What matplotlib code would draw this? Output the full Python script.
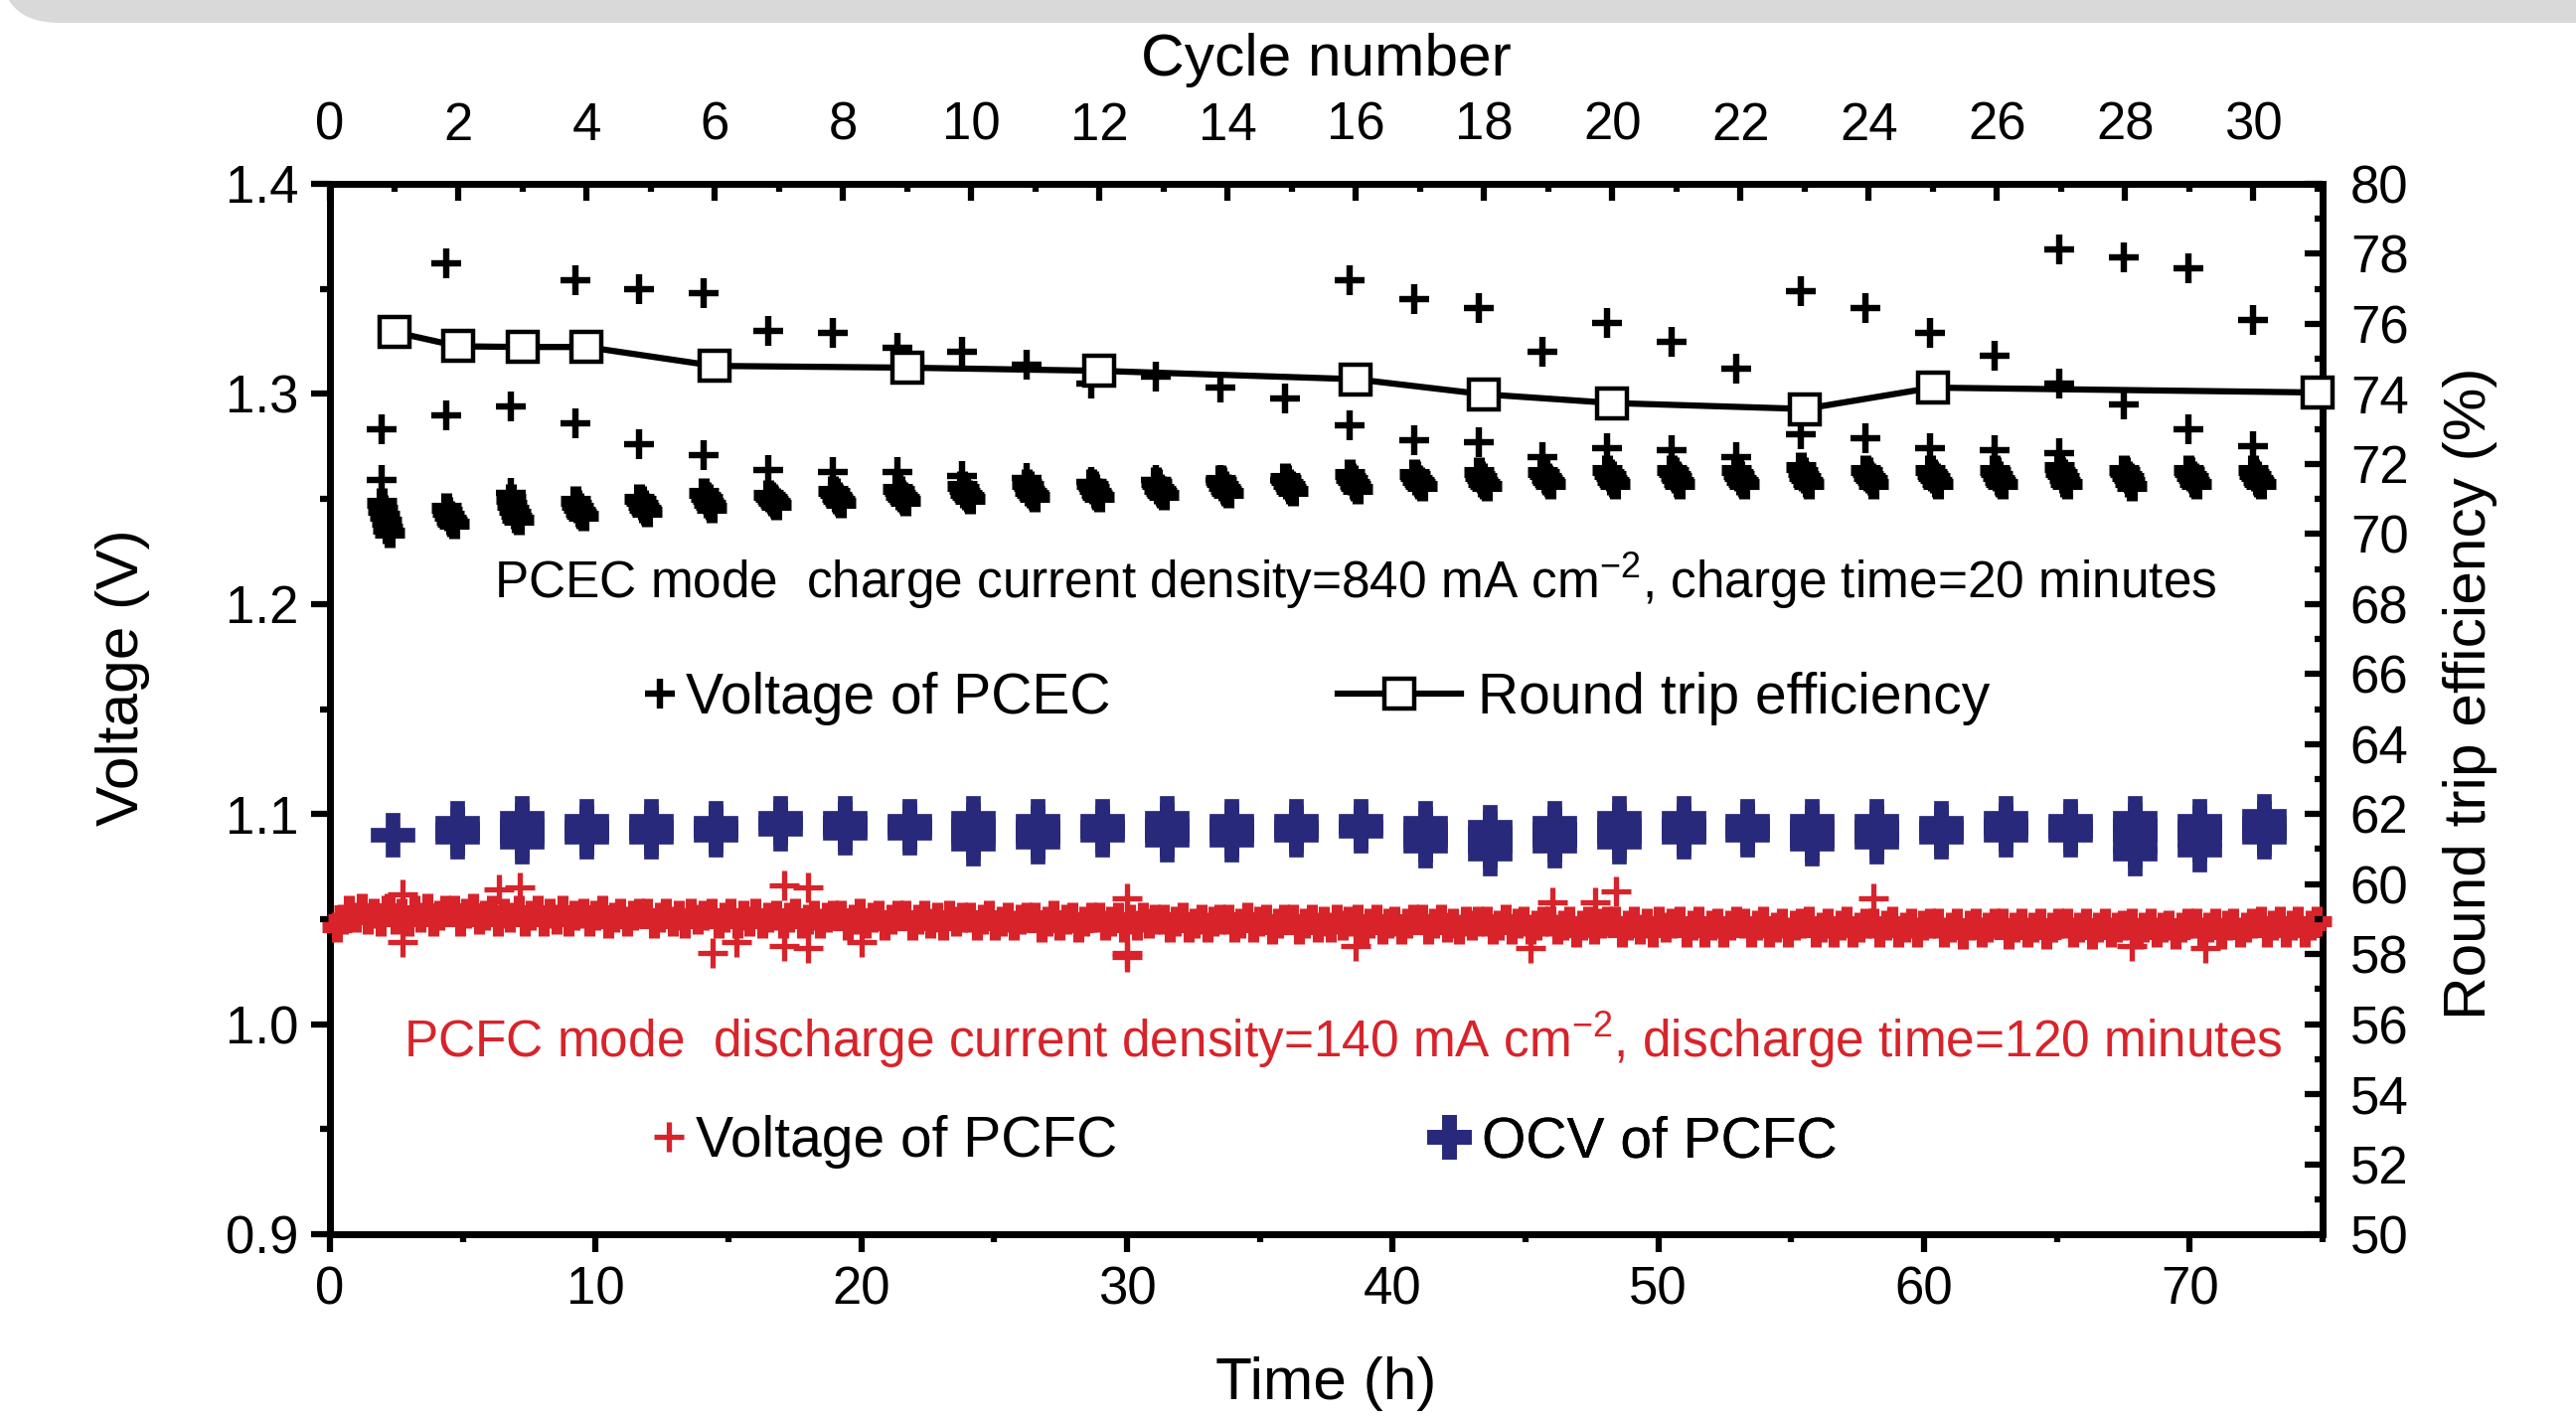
import numpy as np
import matplotlib
matplotlib.use('Agg')
import matplotlib.pyplot as plt
from matplotlib.patches import FancyBboxPatch
from matplotlib.lines import Line2D
from matplotlib.ticker import MultipleLocator, FormatStrFormatter
from matplotlib import font_manager

# --- fuente tipo Arial ---
nombres = {f.name for f in font_manager.fontManager.ttflist}
FUENTE = 'Liberation Sans' if 'Liberation Sans' in nombres else 'DejaVu Sans'
plt.rcParams['font.family'] = [FUENTE, 'DejaVu Sans']
plt.rcParams['mathtext.default'] = 'regular'

ROJO = '#d8232a'
AZUL = '#28297b'

# --- datos ---
# inicio de cada carga (h), ciclos 1..30
inicio_ciclo = [1.94, 4.37, 6.80, 9.23, 11.65, 14.08, 16.51, 18.94, 21.37, 23.80,
                26.23, 28.65, 31.08, 33.51, 35.94, 38.37, 40.80, 43.23, 45.65, 48.08,
                50.51, 52.94, 55.37, 57.80, 60.23, 62.65, 65.08, 67.51, 69.94, 72.37]

# primeras lecturas de cada carga PCEC (transitorio), V
pcec_inicio = [
    [1.283, 1.259], [1.362, 1.290], [1.294, 1.253], [1.354, 1.286], [1.350, 1.276],
    [1.348, 1.271], [1.330, 1.264], [1.329, 1.263], [1.322, 1.263], [1.320, 1.261],
    [1.314, 1.260], [1.305, 1.258], [1.308, 1.259], [1.303, 1.259], [1.298, 1.259],
    [1.354, 1.285], [1.345, 1.278], [1.341, 1.277], [1.320, 1.270], [1.334, 1.274],
    [1.325, 1.273], [1.312, 1.270], [1.349, 1.281], [1.341, 1.279], [1.329, 1.274],
    [1.318, 1.273], [1.369, 1.305, 1.272], [1.365, 1.295], [1.360, 1.283], [1.335, 1.275]]

# resto de la carga (nube densa), V
pcec_carga = [
    [1.248, 1.245, 1.242, 1.239, 1.236, 1.234],
    [1.246, 1.244, 1.242, 1.240, 1.239, 1.238],
    [1.250, 1.247, 1.245, 1.243, 1.241, 1.240],
    [1.249, 1.247, 1.246, 1.244, 1.243, 1.242],
    [1.250, 1.249, 1.247, 1.246, 1.245, 1.244],
    [1.253, 1.251, 1.250, 1.248, 1.247, 1.246],
    [1.252, 1.251, 1.250, 1.249, 1.248, 1.247],
    [1.254, 1.253, 1.251, 1.250, 1.249, 1.248],
    [1.255, 1.254, 1.252, 1.251, 1.250, 1.249],
    [1.256, 1.255, 1.253, 1.252, 1.251, 1.250],
    [1.257, 1.256, 1.254, 1.253, 1.252, 1.251],
    [1.257, 1.256, 1.255, 1.253, 1.252, 1.251],
    [1.258, 1.257, 1.255, 1.254, 1.253, 1.252],
    [1.259, 1.258, 1.256, 1.255, 1.254, 1.253],
    [1.260, 1.259, 1.257, 1.256, 1.255, 1.254],
    [1.262, 1.260, 1.259, 1.257, 1.256, 1.255],
    [1.262, 1.261, 1.259, 1.258, 1.257, 1.256],
    [1.263, 1.261, 1.260, 1.258, 1.257, 1.256],
    [1.263, 1.262, 1.260, 1.259, 1.258, 1.257],
    [1.264, 1.262, 1.261, 1.259, 1.258, 1.257],
    [1.264, 1.263, 1.261, 1.260, 1.258, 1.257],
    [1.264, 1.262, 1.261, 1.259, 1.258, 1.257],
    [1.265, 1.263, 1.261, 1.260, 1.258, 1.257],
    [1.264, 1.263, 1.261, 1.260, 1.259, 1.257],
    [1.264, 1.262, 1.261, 1.260, 1.258, 1.257],
    [1.264, 1.263, 1.261, 1.259, 1.258, 1.257],
    [1.265, 1.263, 1.262, 1.260, 1.258, 1.257],
    [1.264, 1.263, 1.261, 1.260, 1.258, 1.256],
    [1.264, 1.263, 1.261, 1.260, 1.258, 1.257],
    [1.264, 1.262, 1.261, 1.259, 1.258, 1.257]]
offset_carga = [0.0, 0.06, 0.12, 0.18, 0.24, 0.30]   # h desde el inicio de la carga

# OCV de PCFC por ciclo, V
ocv = [
    [1.090], [1.096, 1.093, 1.091, 1.089], [1.098, 1.095, 1.092, 1.089, 1.087],
    [1.097, 1.094, 1.091, 1.089], [1.097, 1.094, 1.091, 1.089], [1.096, 1.094, 1.092, 1.090],
    [1.098, 1.096, 1.093], [1.098, 1.096, 1.093, 1.091], [1.097, 1.095, 1.093, 1.091],
    [1.098, 1.095, 1.092, 1.089, 1.086], [1.097, 1.094, 1.091, 1.089, 1.087],
    [1.097, 1.094, 1.092, 1.090], [1.098, 1.095, 1.092, 1.090, 1.088],
    [1.097, 1.095, 1.092, 1.090, 1.088], [1.097, 1.094, 1.092, 1.090], [1.097, 1.094, 1.092],
    [1.096, 1.093, 1.090, 1.088, 1.085], [1.094, 1.091, 1.088, 1.085, 1.081],
    [1.096, 1.093, 1.090, 1.088, 1.085], [1.098, 1.095, 1.092, 1.089, 1.087],
    [1.098, 1.095, 1.093, 1.091, 1.089], [1.097, 1.095, 1.092, 1.090],
    [1.097, 1.094, 1.091, 1.088, 1.086], [1.097, 1.094, 1.091, 1.089, 1.087],
    [1.096, 1.094, 1.091, 1.089], [1.098, 1.095, 1.093, 1.090], [1.097, 1.095, 1.092, 1.090],
    [1.098, 1.095, 1.092, 1.090, 1.085, 1.081], [1.097, 1.094, 1.091, 1.088, 1.083],
    [1.099, 1.096, 1.093, 1.091, 1.089]]
OFFSET_OCV = 0.42

# descarga PCFC: bloques entre cargas, V (muestreo cada DT_DESC h)
pcfc_descarga = [
    [1.046, 1.050, 1.054, 1.051, 1.055, 1.050, 1.053, 1.049, 1.054],
    [1.055, 1.050, 1.053, 1.049, 1.054, 1.051, 1.055, 1.049, 1.052, 1.054],
    [1.054, 1.049, 1.053, 1.055, 1.050, 1.052, 1.054, 1.049, 1.053, 1.051],
    [1.054, 1.049, 1.052, 1.054, 1.049, 1.053, 1.050, 1.054, 1.049, 1.052],
    [1.053, 1.049, 1.052, 1.054, 1.048, 1.051, 1.053, 1.049, 1.052, 1.053],
    [1.053, 1.048, 1.051, 1.053, 1.049, 1.052, 1.048, 1.053, 1.050, 1.052],
    [1.053, 1.048, 1.051, 1.053, 1.048, 1.052, 1.049, 1.053, 1.048, 1.051],
    [1.052, 1.048, 1.051, 1.053, 1.048, 1.050, 1.052, 1.048, 1.051, 1.052],
    [1.052, 1.047, 1.050, 1.053, 1.048, 1.051, 1.052, 1.047, 1.050, 1.052],
    [1.052, 1.047, 1.050, 1.052, 1.048, 1.051, 1.047, 1.052, 1.049, 1.051],
    [1.051, 1.047, 1.050, 1.052, 1.047, 1.049, 1.051, 1.047, 1.050, 1.051],
    [1.051, 1.046, 1.049, 1.052, 1.047, 1.050, 1.051, 1.046, 1.049, 1.051],
    [1.051, 1.047, 1.049, 1.051, 1.046, 1.050, 1.047, 1.051, 1.048, 1.050],
    [1.050, 1.046, 1.049, 1.051, 1.046, 1.048, 1.050, 1.046, 1.049, 1.050],
    [1.050, 1.046, 1.048, 1.051, 1.046, 1.049, 1.050, 1.045, 1.048, 1.050],
    [1.050, 1.045, 1.048, 1.050, 1.046, 1.049, 1.046, 1.050, 1.047, 1.049],
    [1.050, 1.045, 1.048, 1.050, 1.045, 1.048, 1.049, 1.045, 1.048, 1.050],
    [1.050, 1.045, 1.048, 1.050, 1.046, 1.048, 1.045, 1.049, 1.047, 1.049],
    [1.049, 1.045, 1.047, 1.050, 1.045, 1.048, 1.049, 1.045, 1.047, 1.049],
    [1.049, 1.045, 1.047, 1.049, 1.044, 1.047, 1.049, 1.045, 1.048, 1.049],
    [1.049, 1.044, 1.047, 1.049, 1.045, 1.048, 1.044, 1.049, 1.046, 1.048],
    [1.049, 1.044, 1.047, 1.049, 1.044, 1.047, 1.048, 1.044, 1.047, 1.049],
    [1.048, 1.044, 1.047, 1.049, 1.044, 1.046, 1.048, 1.044, 1.047, 1.048],
    [1.049, 1.044, 1.046, 1.048, 1.044, 1.047, 1.049, 1.044, 1.046, 1.048],
    [1.048, 1.044, 1.047, 1.049, 1.044, 1.046, 1.048, 1.044, 1.047, 1.048],
    [1.048, 1.044, 1.046, 1.048, 1.043, 1.047, 1.048, 1.044, 1.046, 1.048],
    [1.048, 1.043, 1.046, 1.048, 1.044, 1.046, 1.048, 1.043, 1.046, 1.048],
    [1.048, 1.044, 1.046, 1.048, 1.043, 1.046, 1.048, 1.044, 1.046, 1.047],
    [1.048, 1.043, 1.046, 1.048, 1.044, 1.046, 1.047, 1.043, 1.046, 1.048],
    [1.048, 1.044, 1.046, 1.048, 1.043, 1.047, 1.048, 1.044, 1.046, 1.048],
    [1.049, 1.044, 1.047, 1.049, 1.044, 1.047, 1.049, 1.044, 1.047, 1.049]]
INICIO_DESC_0 = 0.25
OFFSET_DESC = 0.30
DT_DESC = 0.235

# puntos sueltos de la descarga (h, V)
pcfc_sueltos_t = [2.73, 2.73, 6.36, 7.15, 14.4, 15.3, 17.1, 17.1, 18.0, 18.0, 20.0, 30.0,
                  30.0, 30.0, 38.6, 45.2, 46.0, 47.6, 48.4, 58.1, 67.8, 70.6]
pcfc_sueltos_v = [1.062, 1.039, 1.064, 1.065, 1.034, 1.039, 1.066, 1.037, 1.065, 1.036, 1.039,
                  1.060, 1.034, 1.032, 1.037, 1.036, 1.058, 1.058, 1.063, 1.060, 1.037, 1.036]

# eficiencia de ida y vuelta
ciclos_ef = [1, 2, 3, 4, 6, 9, 12, 16, 18, 20, 23, 25, 31]
eficiencia = [75.77, 75.36, 75.34, 75.34, 74.80, 74.75, 74.66, 74.42, 73.99, 73.74, 73.57, 74.18, 74.04]

# --- armado de las series ---
t_ini, v_ini, t_car, v_car = [], [], [], []
for t0, ini, car in zip(inicio_ciclo, pcec_inicio, pcec_carga):
    t_ini += [t0] * len(ini)
    v_ini += ini
    t_car += [t0 + o for o in offset_carga]
    v_car += car

t_ocv, v_ocv = [], []
for t0, vals in zip(inicio_ciclo, ocv):
    t_ocv += [t0 + OFFSET_OCV] * len(vals)
    v_ocv += vals

inicios_desc = [INICIO_DESC_0] + [t0 + OFFSET_DESC for t0 in inicio_ciclo]
t_pcfc, v_pcfc = [], []
for t0, vals in zip(inicios_desc, pcfc_descarga):
    t_pcfc += [t0 + DT_DESC * i for i in range(len(vals))]
    v_pcfc += vals

# --- figura ---
fig = plt.figure(figsize=(25.92, 14.31), dpi=100)
rect = [332 / 2592, 1 - 1242 / 1431, (2337 - 332) / 2592, (1242 - 185) / 1431]
ax = fig.add_axes(rect)
ax2 = fig.add_axes(rect, frameon=False)

# barra gris superior (captura de pantalla)
barra = FancyBboxPatch((0, 1431 - 23), 2800, 200, boxstyle='round,pad=0,rounding_size=60',
                       transform=None, facecolor='#d9d9d9', edgecolor='none', zorder=-10)
fig.patches.append(barra)

ax.plot(t_pcfc, v_pcfc, ls='none', marker='+', ms=22, mew=8, color=ROJO, clip_on=False, zorder=3)
ax.plot(pcfc_sueltos_t, pcfc_sueltos_v, ls='none', marker='+', ms=21, mew=3.8, color=ROJO, zorder=3)
ax.plot(t_ocv, v_ocv, ls='none', marker='P', ms=31, mew=0.5, color=AZUL, mec=AZUL, zorder=4)
ax.plot(t_car, v_car, ls='none', marker='+', ms=21, mew=8, color='black', zorder=4)
ax.plot(t_ini, v_ini, ls='none', marker='+', ms=22, mew=4.6, color='black', zorder=4)

ax2.plot(ciclos_ef, eficiencia, color='black', lw=4.5, marker='s', ms=21, mew=3.2,
         mfc='white', mec='black', clip_on=False, zorder=5)

# ejes
ax.set_xlim(0, 75)
ax.set_ylim(0.9, 1.4)
ax2.set_xlim(0, 31.08)
ax2.set_ylim(50, 80)

ax.xaxis.set_major_locator(MultipleLocator(10))
ax.xaxis.set_minor_locator(MultipleLocator(5))
ax.yaxis.set_major_locator(MultipleLocator(0.1))
ax.yaxis.set_minor_locator(MultipleLocator(0.05))
ax.yaxis.set_major_formatter(FormatStrFormatter('%.1f'))
ax2.xaxis.set_major_locator(MultipleLocator(2))
ax2.xaxis.set_minor_locator(MultipleLocator(1))
ax2.yaxis.set_major_locator(MultipleLocator(2))
ax2.yaxis.set_minor_locator(MultipleLocator(1))

for s in ax.spines.values():
    s.set_linewidth(5)

ax.tick_params(axis='x', which='major', direction='out', length=13, width=4.5, pad=10, labelsize=38)
ax.tick_params(axis='x', which='minor', direction='out', length=6, width=4.5)
ax.tick_params(axis='y', which='major', direction='out', length=14, width=4.5, pad=9, labelsize=38)
ax.tick_params(axis='y', which='minor', direction='out', length=7, width=4.5)

ax2.xaxis.set_ticks_position('top')
ax2.xaxis.set_label_position('top')
ax2.yaxis.set_ticks_position('right')
ax2.yaxis.set_label_position('right')
ax2.tick_params(axis='x', which='major', direction='in', length=12, width=4.5, pad=24, labelsize=38)
ax2.tick_params(axis='x', which='minor', direction='in', length=6, width=4.5)
ax2.tick_params(axis='y', which='major', direction='in', length=13, width=4.5, pad=20, labelsize=38)
ax2.tick_params(axis='y', which='minor', direction='in', length=6, width=4.5)

# titulos de ejes
ax.text(-0.104, 0.53, 'Voltage (V)', transform=ax.transAxes, rotation=90,
        ha='center', va='center', fontsize=43.5)
ax.text(1.074, 0.515, 'Round trip efficiency (%)', transform=ax.transAxes, rotation=90,
        ha='center', va='center', fontsize=43.5)
ax.text(0.5, -0.142, 'Time (h)', transform=ax.transAxes, ha='center', va='center', fontsize=43.5)
ax.text(0.5, 1.118, 'Cycle number', transform=ax.transAxes, ha='center', va='center', fontsize=43.5)

# textos
ax.text(0.0822, 0.622, 'PCEC mode  charge current density=840 mA cm$^{-2}$, charge time=20 minutes',
        transform=ax.transAxes, ha='left', va='center', fontsize=37)
ax.text(0.037, 0.185, 'PCFC mode  discharge current density=140 mA cm$^{-2}$, discharge time=120 minutes',
        transform=ax.transAxes, ha='left', va='center', fontsize=37, color=ROJO)

# leyendas (una por entrada, como en el original)
h_pcec = Line2D([], [], ls='none', marker='+', ms=22, mew=4.6, color='black')
h_ef = Line2D([], [], color='black', lw=4.5, marker='s', ms=21, mew=3.2, mfc='white', mec='black')
h_pcfc = Line2D([], [], ls='none', marker='+', ms=21, mew=3.8, color=ROJO)
h_ocv = Line2D([], [], ls='none', marker='P', ms=31, mew=0.5, color=AZUL)

def leyenda(handle, texto, x, y, largo, sep):
    leg = ax.legend([handle], [texto], loc='center left', bbox_to_anchor=(x, y),
                    bbox_transform=ax.transAxes, frameon=False, borderpad=0, borderaxespad=0,
                    handlelength=largo, handletextpad=sep, fontsize=41)
    ax.add_artist(leg)

leyenda(h_pcec, 'Voltage of PCEC', 0.157, 0.510, 0.6, 0.16)
leyenda(h_ef, 'Round trip efficiency', 0.5058, 0.510, 2.18, 0.29)
leyenda(h_pcfc, 'Voltage of PCFC', 0.1618, 0.0876, 0.6, 0.16)
leyenda(h_ocv, 'OCV of PCFC', 0.5532, 0.0876, 0.6, 0.28)

fig.savefig('out.png', dpi=100)
